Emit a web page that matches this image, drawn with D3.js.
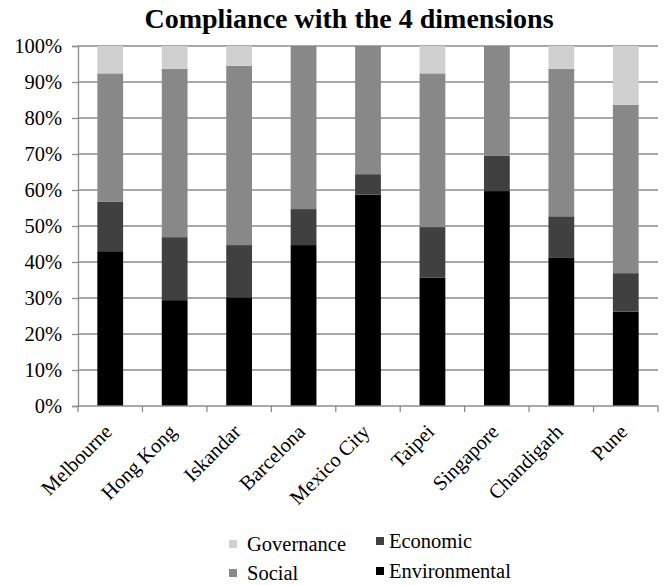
<!DOCTYPE html>
<html>
<head>
<meta charset="utf-8">
<script src="https://cdn.jsdelivr.net/npm/d3@7/dist/d3.min.js"></script>
<style>
  html, body { margin: 0; padding: 0; background: #fff; }
  svg { display: block; }
  text { font-family: "Liberation Serif", "Times New Roman", serif; fill: #000; }
</style>
</head>
<body>
<svg id="chart" width="664" height="585"></svg>
<script>
// Share (%) of each dimension per city
const cities = ["Melbourne", "Hong Kong", "Iskandar", "Barcelona", "Mexico City", "Taipei", "Singapore", "Chandigarh", "Pune"];
const environmental = [43.0, 29.4, 30.2, 44.7, 58.7, 35.7, 59.7, 41.3, 26.2];
const economic      = [13.7, 17.5, 14.5, 10.0,  5.7, 14.0,  9.9, 11.4, 10.7];
const social        = [35.7, 46.8, 49.8, 45.3, 35.6, 42.7, 30.4, 41.0, 46.8];
const governance    = [ 7.6,  6.3,  5.5,  0.0,  0.0,  7.6,  0.0,  6.3, 16.3];
const yTicks = [0, 10, 20, 30, 40, 50, 60, 70, 80, 90, 100];

const seriesKeys = ["Environmental", "Economic", "Social", "Governance"];
const colors = { Environmental: "#000000", Economic: "#404040", Social: "#888888", Governance: "#d0d0d0" };

const rows = cities.map((c, i) => ({
  city: c,
  Environmental: environmental[i],
  Economic: economic[i],
  Social: social[i],
  Governance: governance[i]
}));

const svg = d3.select("#chart");
const margin = { left: 78, right: 6, top: 46, bottom: 179 };
const W = 664, H = 585;
const x0 = margin.left, x1 = W - margin.right;
const y0 = H - margin.bottom, y1 = margin.top;
const FS = "20.5px";

const x = d3.scaleBand().domain(cities).range([x0, x1]).paddingInner(0.6).paddingOuter(0.3);
const xCat = d3.scaleBand().domain(cities).range([x0, x1]);
const y = d3.scaleLinear().domain([0, 100]).range([y0, y1]);

// Title
svg.append("text")
  .attr("x", 349).attr("y", 28)
  .attr("text-anchor", "middle")
  .style("font-size", "28px").style("font-weight", "bold")
  .text("Compliance with the 4 dimensions");

// Horizontal gridlines
svg.append("g").selectAll("line").data(yTicks.filter(t => t > 0)).join("line")
  .attr("x1", x0).attr("x2", x1)
  .attr("y1", d => y(d)).attr("y2", d => y(d))
  .attr("stroke", "#8c8c8c").attr("stroke-width", 1.3);

// Stacked bars
const stack = d3.stack().keys(seriesKeys)(rows);
svg.append("g").selectAll("g").data(stack).join("g")
  .attr("fill", d => colors[d.key])
  .selectAll("rect").data(d => d).join("rect")
  .attr("x", d => x(d.data.city))
  .attr("width", x.bandwidth())
  .attr("y", d => y(d[1]))
  .attr("height", d => y(d[0]) - y(d[1]));

// Y axis
const yAxis = svg.append("g")
  .attr("transform", `translate(${x0},0)`)
  .call(d3.axisLeft(y).tickValues(yTicks).tickFormat(d => d + "%").tickSize(6).tickPadding(10));
yAxis.select(".domain").attr("stroke", "#8c8c8c").attr("stroke-width", 1.3);
yAxis.selectAll(".tick line").attr("stroke", "#8c8c8c").attr("stroke-width", 1.3);
yAxis.selectAll(".tick text").style("font-size", FS).style("font-family", "Liberation Serif, serif").attr("fill", "#000");

// X axis: baseline and category boundary ticks
svg.append("line")
  .attr("x1", x0).attr("x2", x1).attr("y1", y0).attr("y2", y0)
  .attr("stroke", "#8c8c8c").attr("stroke-width", 1.3);
const bounds = cities.map(c => xCat(c)).concat([x1]);
svg.append("g").selectAll("line").data(bounds).join("line")
  .attr("x1", d => d).attr("x2", d => d)
  .attr("y1", y0).attr("y2", y0 + 6)
  .attr("stroke", "#8c8c8c").attr("stroke-width", 1.3);

// Rotated category labels
svg.append("g").selectAll("text").data(cities).join("text")
  .attr("transform", d => `translate(${xCat(d) + xCat.bandwidth() / 2 + 3},${y0 + 27}) rotate(-45)`)
  .attr("text-anchor", "end")
  .style("font-size", FS)
  .text(d => d);

// Legend
const legendItems = [
  { key: "Governance", x: 229, y: 544, tx: 18 },
  { key: "Economic", x: 376, y: 541, tx: 13 },
  { key: "Social", x: 229, y: 573, tx: 18 },
  { key: "Environmental", x: 376, y: 571, tx: 13 }
];
const lg = svg.append("g").selectAll("g").data(legendItems).join("g")
  .attr("transform", d => `translate(${d.x},${d.y})`);
lg.append("rect").attr("x", 0).attr("y", -4).attr("width", 8).attr("height", 8)
  .attr("fill", d => colors[d.key]);
lg.append("text").attr("x", d => d.tx).attr("y", 0).attr("dy", "0.33em")
  .style("font-size", FS)
  .text(d => d.key);
</script>
</body>
</html>
